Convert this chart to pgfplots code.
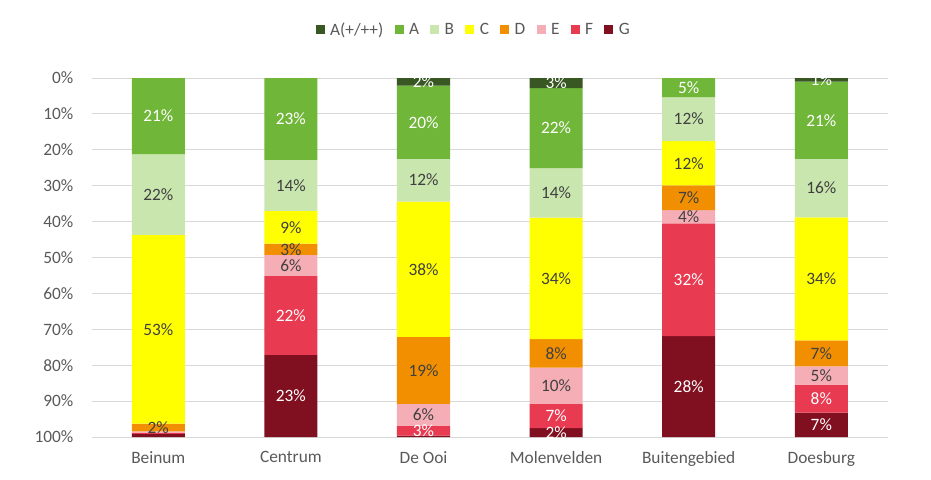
\documentclass[border=0pt]{standalone}
\usepackage{pgfplots}
\usepackage{pgfplotstable}
\pgfplotsset{compat=1.18}
\usepackage{fontspec}
\setmainfont{Carlito}
\definecolor{cAo}{HTML}{385723}
\definecolor{cA}{HTML}{70B639}
\definecolor{cB}{HTML}{C9E6AE}
\definecolor{cC}{HTML}{FFFF00}
\definecolor{cD}{HTML}{F18F00}
\definecolor{cE}{HTML}{F5AEB6}
\definecolor{cF}{HTML}{E83A50}
\definecolor{cG}{HTML}{800F20}
\definecolor{gridgray}{HTML}{D9D9D9}
\definecolor{tickgray}{HTML}{595959}
\definecolor{labdark}{HTML}{404040}
\pgfplotstableread{
x A0 A B C D E F G lA0 lA lB lC lD lE lF lG
0 0.0 21.2 22.5 52.6 2.1 0.4 0.3 0.9 0 21 22 53 2 0 0 0
1 0.0 22.8 14.2 9.1 3.2 5.8 22.0 22.9 0 23 14 9 3 6 22 23
2 2.1 20.4 11.9 37.7 18.7 6.1 2.7 0.4 2 20 12 38 19 6 3 0
3 2.8 22.3 13.8 33.8 8.0 10.1 6.7 2.5 3 22 14 34 8 10 7 2
4 0.0 5.3 12.3 12.3 6.9 3.7 31.4 28.1 0 5 12 12 7 4 32 28
5 1.0 21.5 16.3 34.3 7.2 5.1 7.8 6.8 1 21 16 34 7 5 8 7
}\datatable
\begin{document}
\begin{tikzpicture}
\begin{axis}[
  scale only axis, width=596.7pt, height=269.25pt,
  at={(0,0)}, anchor=south west,
  ybar stacked, bar width=0.4,
  xmin=-0.5, xmax=5.5, ymin=0, ymax=100, y dir=reverse,
  xtick={0,...,5},
  xticklabels={Beinum,Centrum,De Ooi,Molenvelden,Buitengebied,Doesburg},
  ytick={0,10,...,100},
  yticklabels={0\%,10\%,20\%,30\%,40\%,50\%,60\%,70\%,80\%,90\%,100\%},
  axis line style={draw=none}, major tick length=0pt,
  ymajorgrids, grid style={color=gridgray, line width=0.75pt},
  tick label style={font=\fontsize{13}{15}\selectfont, text=tickgray},
  xticklabel style={yshift=-7.5pt},
  yticklabel style={xshift=-10.5pt},
  legend columns=8,
  legend style={draw=none, fill=none, at={(0.479,1.134)}, anchor=center,
    font=\fontsize{13}{15}\selectfont, text=tickgray,
    /tikz/every odd column/.append style={column sep=3.5pt},
    /tikz/every even column/.append style={column sep=8pt},
    nodes={inner sep=0.5pt}},
  legend image code/.code={\draw[#1,draw=none] (0pt,-3.3pt) rectangle (6.75pt,3.3pt);},
  point meta=explicit symbolic,
  nodes near coords={\ifnum\pgfplotspointmeta=0\relax\else\pgfplotspointmeta\%\fi},
  every node near coord/.append style={anchor=center, font=\fontsize{13}{15}\selectfont},
]
\addplot[fill=cAo, draw=none,
  every node near coord/.append style={text=white}] table[x=x,y=A0,meta=lA0]{\datatable};
\addplot[fill=cA, draw=none,
  every node near coord/.append style={text=white}] table[x=x,y=A,meta=lA]{\datatable};
\addplot[fill=cB, draw=none,
  every node near coord/.append style={text=labdark}] table[x=x,y=B,meta=lB]{\datatable};
\addplot[fill=cC, draw=none,
  every node near coord/.append style={text=labdark}] table[x=x,y=C,meta=lC]{\datatable};
\addplot[fill=cD, draw=none,
  every node near coord/.append style={text=labdark}] table[x=x,y=D,meta=lD]{\datatable};
\addplot[fill=cE, draw=none,
  every node near coord/.append style={text=labdark}] table[x=x,y=E,meta=lE]{\datatable};
\addplot[fill=cF, draw=none,
  every node near coord/.append style={text=white}] table[x=x,y=F,meta=lF]{\datatable};
\addplot[fill=cG, draw=none,
  every node near coord/.append style={text=white}] table[x=x,y=G,meta=lG]{\datatable};
\legend{A(+/++),A,B,C,D,E,F,G}
\end{axis}
\pgfresetboundingbox
\useasboundingbox (-69pt,-31.5pt) rectangle (629.25pt,327.75pt);
\end{tikzpicture}
\end{document}
